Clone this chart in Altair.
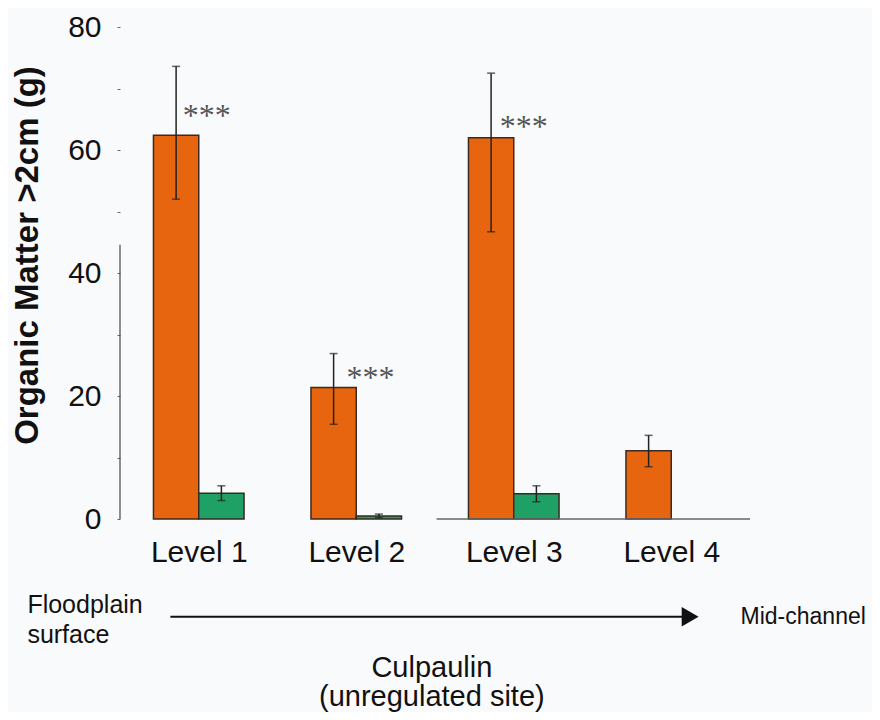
import altair as alt
import pandas as pd

# ---- data ----
levels = [1, 2, 3, 4]
level_names = ["Level 1", "Level 2", "Level 3", "Level 4"]
orange_vals = [62.4, 21.4, 62.0, 11.1]
orange_lo = [52.0, 15.4, 46.7, 8.5]
orange_hi = [73.6, 26.9, 72.5, 13.6]
green_vals = [4.2, 0.5, 4.1, None]
green_lo = [3.0, 0.2, 2.8, None]
green_hi = [5.4, 0.8, 5.4, None]
star_levels = [1, 2, 3]
star_x = [1.051, 2.09, 3.064]
star_y = [66.5, 23.9, 64.7]

ORANGE = "#E8650F"
GREEN = "#1FA064"
BW = 0.2875  # bar width in level units

rows = []
for i, lv in enumerate(levels):
    rows.append(dict(level=lv, series="a", x0=lv - BW, x1=lv, xc=lv - BW / 2,
                     v=orange_vals[i], lo=orange_lo[i], hi=orange_hi[i]))
    if green_vals[i] is not None:
        rows.append(dict(level=lv, series="b", x0=lv, x1=lv + BW, xc=lv + BW / 2,
                         v=green_vals[i], lo=green_lo[i], hi=green_hi[i]))
df = pd.DataFrame(rows)

stars = pd.DataFrame({"x": star_x, "y": star_y, "t": ["***"] * 3})

xs = alt.Scale(domain=[0.5, 4.5], nice=False, zero=False)
ys = alt.Scale(domain=[0, 80], nice=False)

base = alt.Chart(df)

bars = base.mark_bar(stroke="#3a2a20", strokeWidth=1.5).encode(
    x=alt.X("x0:Q", scale=xs,
            axis=alt.Axis(values=levels, labelExpr="'Level ' + datum.value", title=None,
                          ticks=False, domain=False, grid=False, labelFontSize=30,
                          labelFont="Liberation Sans", labelColor="#111", labelPadding=18)),
    x2="x1:Q",
    y=alt.Y("v:Q", scale=ys,
            axis=alt.Axis(values=list(range(0, 81, 10)),
                          labelExpr="datum.value % 20 == 0 ? datum.label : ''",
                          title="Organic Matter >2cm (g)", titleFontSize=33,
                          titleFont="Liberation Sans", titleFontWeight="bold",
                          titleColor="#111", titleX=-93, titleY=228,
                          titleAngle=-90, titleBaseline="middle", titleAlign="center",
                          labelFontSize=30, labelFont="Liberation Sans", labelColor="#111",
                          tickSize=3, tickColor="#666", labelPadding=16,
                          domain=False, grid=False)),
    y2=alt.Y2(datum=0),
    color=alt.Color("series:N", scale=alt.Scale(domain=["a", "b"], range=[ORANGE, GREEN]),
                    legend=None),
)

err = base.mark_rule(color="#222", strokeWidth=1.5).encode(
    x=alt.X("xc:Q", scale=xs), y=alt.Y("lo:Q", scale=ys), y2="hi:Q")
cap_hi = base.mark_tick(orient="horizontal", size=8, thickness=1.5, color="#222").encode(
    x=alt.X("xc:Q", scale=xs), y=alt.Y("hi:Q", scale=ys))
cap_lo = base.mark_tick(orient="horizontal", size=8, thickness=1.5, color="#222").encode(
    x=alt.X("xc:Q", scale=xs), y=alt.Y("lo:Q", scale=ys))

star_text = alt.Chart(stars).mark_text(font="Liberation Serif", fontSize=32, color="#555",
                                       align="center", baseline="middle", dy=6).encode(
    x=alt.X("x:Q", scale=xs), y=alt.Y("y:Q", scale=ys), text="t:N")

# partial axis lines as seen in the figure
yaxis_line = alt.Chart(pd.DataFrame({"x": [0.5], "y0": [0.0], "y1": [44.6]})).mark_rule(
    color="#555", strokeWidth=1.3).encode(x=alt.X("x:Q", scale=xs), y=alt.Y("y0:Q", scale=ys), y2="y1:Q")
xaxis_line = alt.Chart(pd.DataFrame({"x0": [2.51], "x1": [4.5], "y": [0.0]})).mark_rule(
    color="#666", strokeWidth=1.3).encode(x=alt.X("x0:Q", scale=xs), x2="x1:Q", y=alt.Y("y:Q", scale=ys))

# bottom annotations
ann = pd.DataFrame({
    "x": [-0.088, -0.088],
    "y": [-14.0, -18.9],
    "t": ["Floodplain", "surface"],
})
ann_text = alt.Chart(ann).mark_text(font="Liberation Sans", fontSize=25, color="#111",
                                    align="left", baseline="middle").encode(
    x=alt.X("x:Q", scale=xs), y=alt.Y("y:Q", scale=ys), text="t:N")

mid = pd.DataFrame({"x": [4.44], "y": [-15.9], "t": ["Mid-channel"]})
mid_text = alt.Chart(mid).mark_text(font="Liberation Sans", fontSize=23, color="#111",
                                    align="left", baseline="middle").encode(
    x=alt.X("x:Q", scale=xs), y=alt.Y("y:Q", scale=ys), text="t:N")

site = pd.DataFrame({"x": [2.48, 2.48], "y": [-24.3, -29.0],
                     "t": ["Culpaulin", "(unregulated site)"]})
site_text = alt.Chart(site).mark_text(font="Liberation Sans", fontSize=29, color="#111",
                                      align="center", baseline="middle").encode(
    x=alt.X("x:Q", scale=xs), y=alt.Y("y:Q", scale=ys), text="t:N")

arrow_line = alt.Chart(pd.DataFrame({"x0": [0.82], "x1": [4.08], "y": [-15.9]})).mark_rule(
    color="#111", strokeWidth=2).encode(x=alt.X("x0:Q", scale=xs), x2="x1:Q", y=alt.Y("y:Q", scale=ys))
arrow_head = alt.Chart(pd.DataFrame({"x": [4.12], "y": [-15.9]})).mark_point(
    shape="triangle-right", size=380, filled=True, color="#111", opacity=1).encode(
    x=alt.X("x:Q", scale=xs), y=alt.Y("y:Q", scale=ys))

chart = alt.layer(bars, err, cap_hi, cap_lo, star_text, yaxis_line, xaxis_line,
                  ann_text, mid_text, site_text, arrow_line, arrow_head).properties(
    width=630, height=492,
    autosize=alt.AutoSizeParams(type="none"),
    padding={"left": 112, "top": 19, "right": 122, "bottom": 193},
    background="#f9fafc",
).configure_view(stroke=None)

chart.save("out.html", embed_options={"renderer": "svg", "actions": False})
